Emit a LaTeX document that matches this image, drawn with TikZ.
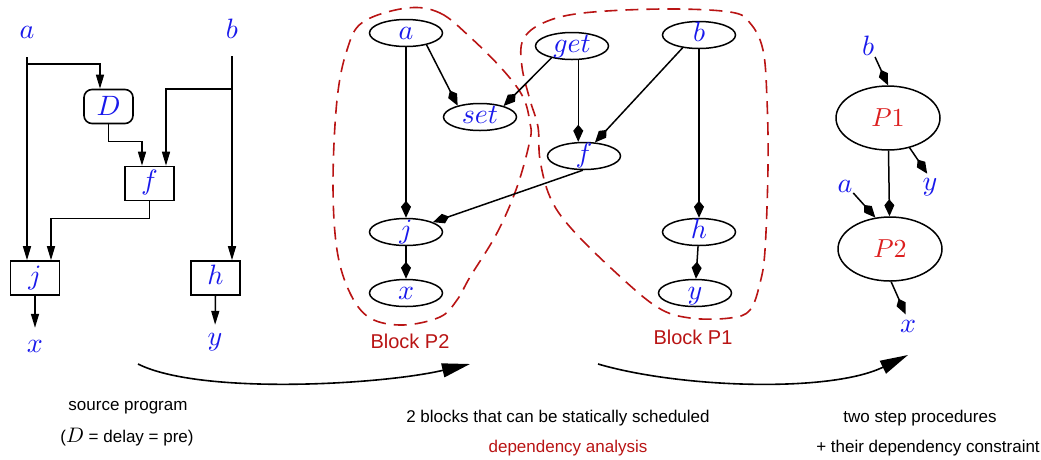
\RequirePackage{fix-cm}
\documentclass[tikz,border=0pt]{standalone}
\usepackage{fontspec}
\setsansfont{Liberation Sans}
\usetikzlibrary{arrows.meta,shapes.geometric}
% math italic drawn from the 10pt design at every size
\DeclareFontShape{OML}{cmm}{m}{it}{<->cmmi10}{}
\DeclareFontShape{OT1}{cmr}{m}{n}{<->cmr10}{}

\definecolor{mblue}{RGB}{25,25,235}
\definecolor{pred}{RGB}{220,30,30}
\definecolor{bred}{RGB}{185,20,20}

\tikzset{
  mlbl/.style={font=\fontsize{28}{30}\selectfont, text=mblue, inner sep=0pt,
               text height=12pt, text depth=0pt},
  opbox/.style={mlbl, draw=black, line width=1.6pt, minimum width=49pt, minimum height=34pt},
  delaybox/.style={opbox, rounded corners=8pt},
  oval/.style={mlbl, ellipse, draw, line width=1.5pt, minimum width=73pt, minimum height=27pt},
  procnode/.style={ellipse, draw, line width=1.5pt, minimum width=104pt, minimum height=64pt,
                   inner sep=0pt, font=\fontsize{26}{30}\selectfont, text=pred},
  wire/.style={line width=1.5pt, -{Triangle[length=14pt,width=8pt]}},
  dep/.style={line width=1.5pt, -{Kite[length=17pt,width=10pt,inset=6pt]}},
  blob/.style={draw=bred, line width=1.6pt, dash pattern=on 13pt off 8pt},
  note/.style={font=\sffamily\fontsize{17}{20}\selectfont, inner sep=0pt},
  blocklbl/.style={font=\sffamily\fontsize{20}{24}\selectfont, text=bred, inner sep=0pt},
  flow/.style={line width=1.6pt, -{Triangle[length=28pt,width=14pt]}},
}

\begin{document}
\begin{tikzpicture}[x=1pt,y=-1pt]
\useasboundingbox (0,0) rectangle (1041,459);

% ---------------- source program ----------------
\node[mlbl] (La) at (27,32) {$a$};
\node[mlbl] (Lb) at (232,32) {$b$};
\node[delaybox, text height=18.4pt] (D) at (108.5,106.5) {$D$};
\node[opbox] (F) at (149.5,183.5) {$f$};
\node[opbox] (J) at (35,278) {$j$};
\node[opbox] (H) at (215.5,278) {$h$};
\node[mlbl] (Lx) at (35,346) {$x$};
\node[mlbl] (Ly) at (215,339) {$y$};

\coordinate (abr) at (27,64);
\coordinate (bbr) at (232,89);

\draw[wire, shorten <=19pt] (La.south) -- (La.south |- J.north);
\draw[wire] (abr) -| ([xshift=-8.5pt]D.north);
\draw[wire] (D.south) -- ++(0,17) -| ([xshift=-7.5pt]F.north);
\draw[wire, shorten <=18pt] (Lb.south) -- (Lb.south |- H.north);
\draw[wire] (bbr) -| ([xshift=16.5pt]F.north);
\draw[wire] (F.south) -- ++(0,17) -| ([xshift=16pt]J.north);
\draw[wire, shorten >=12pt] (J.south) -- (Lx.north);
\draw[wire, shorten >=8pt] (H.south) -- (Ly.north);

% ---------------- dependency graph ----------------
\draw[blob] plot[smooth cycle, tension=0.6] coordinates {
  (407,8) (440,13) (470,37) (503,70) (523,97) (530,123) (530,140) (517,187)
  (497,233) (470,277) (457,300) (440,317) (403,325) (370,318) (350,293)
  (337,250) (333,183) (337,100) (347,50) (363,22)};
\draw[blob] plot[smooth cycle, tension=0.6] coordinates {
  (523,40) (543,23) (583,13) (663,9) (730,12) (750,23) (763,50) (767,100)
  (768,167) (765,250) (760,283) (750,310) (730,318) (690,318) (657,307)
  (613,270) (570,227) (550,197) (540,160) (538,127) (530,100) (522,67)};

\node[oval] (ma) at (406,33) {$a$};
\node[oval] (mget) at (572,46) {$get$};
\node[oval] (mb) at (699,35) {$b$};
\node[oval] (mset) at (480,117) {$set$};
\node[oval] (mf) at (584,156) {$f$};
\node[oval] (mj) at (406,232) {$j$};
\node[oval] (mx) at (406,293) {$x$};
\node[oval] (mh) at (699,232) {$h$};
\node[oval] (my) at (695,293) {$y$};

\draw[dep] (ma) -- (mj);
\draw[dep] (ma.-30) -- (mset.153);
\draw[dep] (mget.210) -- (mset.25);
\draw[dep] (mget.-66) -- (mget.-66 |- mf.north);
\draw[dep] (mb.218) -- (mf.51);
\draw[dep] (mf.-95) -- (mj.20);
\draw[dep] (mj) -- (mx);
\draw[dep] (mb) -- (mh);
\draw[dep] (mh) -- (my);

\node[blocklbl] (bl2) at (410,341) {Block P2};
\node[blocklbl] (bl1) at (693,337) {Block P1};

% ---------------- step procedures ----------------
\node[mlbl] (Rb) at (868,49) {$b$};
\node[procnode] (P1) at (888,118) {$P1$};
\node[mlbl] (Ry) at (930,184) {$y$};
\node[mlbl] (Ra) at (845,186) {$a$};
\node[procnode] (P2) at (890,249) {$P2$};
\node[mlbl] (Rx) at (908,326) {$x$};

\draw[dep, shorten <=2pt] (Rb.south east) -- (P1.north);
\draw[dep, shorten >=5pt] (P1.-54) -- (Ry.north);
\draw[dep] (P1) -- (P2);
\draw[dep, shorten <=1pt] (Ra.south east) -- (P2.115);
\draw[dep, shorten >=6pt] (P2.-88) -- (Rx.north);

% ---------------- transformation arrows ----------------
\coordinate (s1) at (138,364);
\coordinate (e1) at (470,364);
\coordinate (s2) at (598,364);
\coordinate (e2) at (908,355);
\draw[flow] (s1) .. controls (200,395) and (380,385) .. (e1);
\draw[flow] (s2) .. controls (680,388) and (830,393) .. (e2);

% ---------------- captions ----------------
\node[note] (c1a) at (128,408) {source program};
\node[note] (c1b) at (127,437) {({\fontsize{21}{24}\selectfont$D$} = delay = pre)};
\node[note] (c2a) at (558,418) {2 blocks that can be statically scheduled};
\node[note, text=bred] (c2b) at (568,448) {dependency analysis};
\node[note] (c3a) at (920,418) {two step procedures};
\node[note] (c3b) at (928,448) {+ their dependency constraint};
\end{tikzpicture}
\end{document}
